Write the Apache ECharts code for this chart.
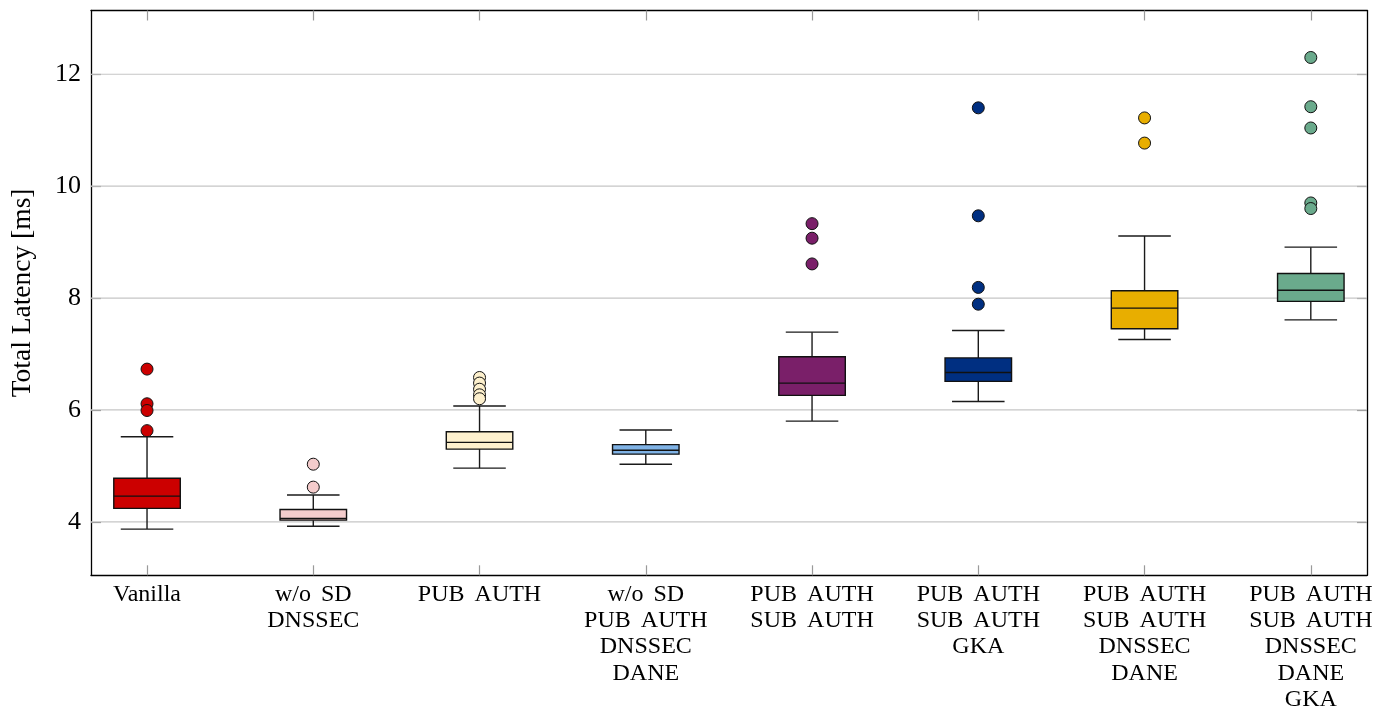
<!DOCTYPE html>
<html>
<head>
<meta charset="utf-8">
<title>Total Latency</title>
<script src="https://cdn.jsdelivr.net/npm/echarts@6/dist/echarts.min.js"></script>
<style>
  html, body { margin: 0; padding: 0; background: #fff; }
  #chart { width: 1387px; height: 713px; }
</style>
</head>
<body>
<div id="chart"></div>
<script>
// Word gap used in the configuration labels (slightly wider than a plain space)
const SP = ' \u2006';

// Configurations on the x axis (one box per configuration)
const categories = [
  'Vanilla',
  'w/o' + SP + 'SD\nDNSSEC',
  'PUB' + SP + 'AUTH',
  'w/o' + SP + 'SD\nPUB' + SP + 'AUTH\nDNSSEC\nDANE',
  'PUB' + SP + 'AUTH\nSUB' + SP + 'AUTH',
  'PUB' + SP + 'AUTH\nSUB' + SP + 'AUTH\nGKA',
  'PUB' + SP + 'AUTH\nSUB' + SP + 'AUTH\nDNSSEC\nDANE',
  'PUB' + SP + 'AUTH\nSUB' + SP + 'AUTH\nDNSSEC\nDANE\nGKA'
];

// Box plot statistics, total latency in ms
const lowerWhisker  = [3.87, 3.92, 4.96, 5.03, 5.80, 6.15, 7.26, 7.61];
const lowerQuartile = [4.24, 4.03, 5.30, 5.21, 6.26, 6.51, 7.45, 7.94];
const medianValue   = [4.46, 4.06, 5.42, 5.28, 6.48, 6.67, 7.82, 8.14];
const upperQuartile = [4.78, 4.22, 5.61, 5.38, 6.95, 6.93, 8.13, 8.44];
const upperWhisker  = [5.52, 4.48, 6.07, 5.64, 7.39, 7.42, 9.11, 8.91];

// Outliers per configuration
const outliers = [
  [6.73, 6.11, 5.99, 5.63],
  [5.03, 4.62],
  [6.58, 6.48, 6.37, 6.27, 6.20],
  [],
  [9.33, 9.07, 8.61],
  [11.40, 9.47, 8.19, 7.89],
  [11.22, 10.77],
  [12.30, 11.42, 11.04, 9.70, 9.60]
];

// Axis ticks
const yTicks = [4, 6, 8, 10, 12];
const xTicks = categories.map((c, k) => k + 1);

// Fill colours, one per configuration
const boxColors = ['#cc0000', '#f4cccc', '#fdf0cd', '#7fb2e5', '#7a1f69', '#002f81', '#e8ae00', '#6aaa8c'];

const FONT = '"Liberation Serif", "Times New Roman", serif';
const X_MIN = 0.663, X_MAX = 8.338;
const Y_MIN = 3.044, Y_MAX = 13.14;

const boxData = categories.map((c, k) => [
  k + 1, lowerWhisker[k], lowerQuartile[k], medianValue[k], upperQuartile[k], upperWhisker[k]
]);

const outlierData = [];
outliers.forEach((list, k) => {
  list.forEach(v => outlierData.push({
    value: [k + 1, v],
    itemStyle: { color: boxColors[k], opacity: 1 }
  }));
});

function renderBox(params, api) {
  const x = api.value(0);
  const k = Math.round(x) - 1;
  const lo = api.coord([x, api.value(1)]);
  const q1 = api.coord([x, api.value(2)]);
  const md = api.coord([x, api.value(3)]);
  const q3 = api.coord([x, api.value(4)]);
  const hi = api.coord([x, api.value(5)]);
  const bw = api.size([0.4, 0])[0];
  const cw = api.size([0.316, 0])[0];
  const cx = lo[0];
  const lineStyle = { stroke: '#1a1a1a', lineWidth: 1.4 };
  return {
    type: 'group',
    children: [
      { type: 'line', shape: { x1: cx, y1: lo[1], x2: cx, y2: q1[1] }, style: lineStyle },
      { type: 'line', shape: { x1: cx, y1: q3[1], x2: cx, y2: hi[1] }, style: lineStyle },
      { type: 'line', shape: { x1: cx - cw / 2, y1: lo[1], x2: cx + cw / 2, y2: lo[1] }, style: lineStyle },
      { type: 'line', shape: { x1: cx - cw / 2, y1: hi[1], x2: cx + cw / 2, y2: hi[1] }, style: lineStyle },
      { type: 'rect', shape: { x: cx - bw / 2, y: q3[1], width: bw, height: q1[1] - q3[1] },
        style: { fill: boxColors[k], stroke: '#111', lineWidth: 1.4 } },
      { type: 'line', shape: { x1: cx - bw / 2, y1: md[1], x2: cx + bw / 2, y2: md[1] },
        style: { stroke: '#111', lineWidth: 1.4 } }
    ]
  };
}

function renderGridLine(params, api) {
  const cs = params.coordSys;
  const p = api.coord([X_MIN, api.value(0)]);
  return {
    type: 'line',
    shape: { x1: cs.x, y1: p[1], x2: cs.x + cs.width, y2: p[1] },
    style: { stroke: '#c6c6c6', lineWidth: 1.2 }
  };
}

const chart = echarts.init(document.getElementById('chart'), null, { renderer: 'canvas' });

const xAxisBase = {
  type: 'value', min: X_MIN, max: X_MAX,
  axisLine: { show: true, onZero: false, lineStyle: { color: '#000', width: 1.3 } },
  axisTick: { show: true, inside: true, length: 10, customValues: xTicks,
              lineStyle: { color: '#9a9a9a', width: 1.2 } },
  splitLine: { show: false }
};
const yAxisBase = {
  type: 'value', min: Y_MIN, max: Y_MAX,
  axisLine: { show: true, onZero: false, lineStyle: { color: '#000', width: 1.3 } },
  axisTick: { show: true, inside: true, length: 10, customValues: yTicks,
              lineStyle: { color: '#7a7a7a', width: 1.2 } },
  splitLine: { show: false }
};

chart.setOption({
  animation: false,
  backgroundColor: '#fff',
  grid: { left: 91, right: 20, top: 10.5, bottom: 137.7, containLabel: false },
  xAxis: [
    Object.assign({}, xAxisBase, {
      position: 'bottom',
      axisLabel: {
        customValues: xTicks,
        formatter: v => categories[Math.round(v) - 1],
        fontFamily: FONT, fontSize: 24, lineHeight: 26.3, color: '#000',
        margin: 6, verticalAlign: 'top', align: 'center'
      }
    }),
    Object.assign({}, xAxisBase, { position: 'top', axisLabel: { show: false } })
  ],
  yAxis: [
    Object.assign({}, yAxisBase, {
      position: 'left',
      name: 'Total Latency [ms]',
      nameLocation: 'middle',
      nameGap: 54,
      nameTextStyle: { fontFamily: FONT, fontSize: 27.5, color: '#000' },
      axisLabel: {
        customValues: yTicks,
        fontFamily: FONT, fontSize: 26, color: '#000', margin: 10
      }
    }),
    Object.assign({}, yAxisBase, { position: 'right', axisLabel: { show: false } })
  ],
  series: [
    {
      type: 'custom', name: 'grid', z: 1, silent: true,
      xAxisIndex: 0, yAxisIndex: 0,
      renderItem: renderGridLine,
      data: yTicks.map(v => [v]),
      encode: { y: 0 }
    },
    {
      type: 'custom', name: 'latency', z: 2, silent: true,
      xAxisIndex: 0, yAxisIndex: 0,
      renderItem: renderBox,
      data: boxData,
      encode: { x: 0, y: [1, 2, 3, 4, 5] }
    },
    {
      type: 'scatter', name: 'outliers', z: 3, silent: true,
      xAxisIndex: 0, yAxisIndex: 0,
      symbol: 'circle', symbolSize: 12,
      itemStyle: { borderColor: '#111', borderWidth: 1, opacity: 1 },
      data: outlierData
    }
  ]
});
</script>
</body>
</html>
